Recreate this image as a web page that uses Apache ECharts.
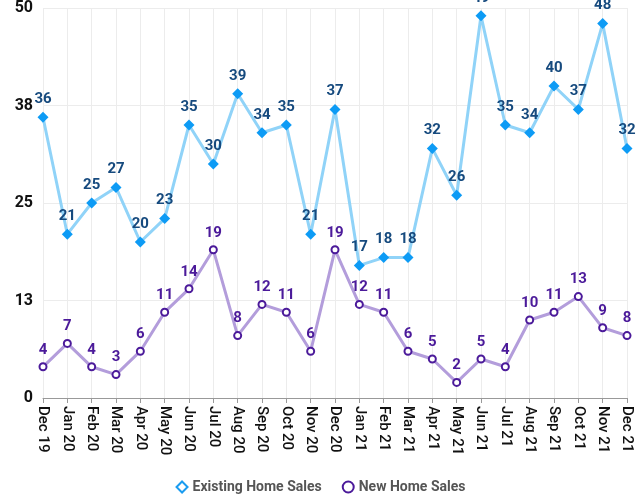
<!DOCTYPE html>
<html>
<head>
<meta charset="utf-8">
<script src="https://cdn.jsdelivr.net/npm/echarts@6/dist/echarts.min.js"></script>
<style>
  html, body { margin: 0; padding: 0; background: #fff; }
  #chart { width: 641px; height: 499px; }
</style>
</head>
<body>
<div id="chart"></div>
<script>
// months along the x axis
const months = ['Dec 19', 'Jan 20', 'Feb 20', 'Mar 20', 'Apr 20', 'May 20', 'Jun 20', 'Jul 20',
  'Aug 20', 'Sep 20', 'Oct 20', 'Nov 20', 'Dec 20', 'Jan 21', 'Feb 21', 'Mar 21', 'Apr 21',
  'May 21', 'Jun 21', 'Jul 21', 'Aug 21', 'Sep 21', 'Oct 21', 'Nov 21', 'Dec 21']

// series values
const existingSales = [36, 21, 25, 27, 20, 23, 35, 30, 39, 34, 35, 21, 37, 17, 18, 18, 32, 26, 49, 35, 34, 40, 37, 48, 32]
const newSales = [4, 7, 4, 3, 6, 11, 14, 19, 8, 12, 11, 6, 19, 12, 11, 6, 5, 2, 5, 4, 10, 11, 13, 9, 8]

const font = '"Roboto", sans-serif'

const chart = echarts.init(document.getElementById('chart'))

chart.setOption({
  animation: false,
  grid: { left: 43, right: 14, top: 8, bottom: 101 },
  legend: {
    bottom: 0,
    left: 'center',
    itemWidth: 11,
    itemHeight: 11,
    itemGap: 20,
    textStyle: { color: '#555', fontSize: 14, fontWeight: 'bold', fontFamily: font },
    data: [
      { name: 'Existing Home Sales', icon: 'emptyDiamond', itemStyle: { color: '#1a9cf0', borderColor: '#1a9cf0', borderWidth: 2.5 } },
      { name: 'New Home Sales', icon: 'emptyCircle', itemStyle: { color: '#4b1a9a', borderColor: '#4b1a9a', borderWidth: 2.5 } }
    ]
  },
  xAxis: {
    type: 'category',
    boundaryGap: false,
    data: months,
    axisLine: { lineStyle: { color: '#999' } },
    axisTick: { show: true, lineStyle: { color: '#999' } },
    splitLine: { show: true, lineStyle: { color: '#ececec' } },
    axisLabel: {
      rotate: -90,
      interval: 0,
      color: '#111',
      fontSize: 15,
      fontWeight: 500,
      fontFamily: font,
      margin: 8
    }
  },
  yAxis: {
    type: 'value',
    min: 0,
    max: 50,
    interval: 12.5,
    axisLine: { show: false },
    axisTick: { show: false },
    splitLine: { lineStyle: { color: '#ececec' } },
    axisLabel: {
      color: '#111',
      fontSize: 16,
      fontWeight: 'bold',
      fontFamily: font,
      margin: 10,
      formatter: v => Math.round(v)
    }
  },
  series: [
    {
      name: 'Existing Home Sales',
      type: 'line',
      data: existingSales,
      symbol: 'diamond',
      symbolSize: 11,
      lineStyle: { color: '#90d3f8', width: 3 },
      itemStyle: { color: '#0d9bf5' },
      label: {
        show: true,
        position: 'top',
        distance: 5,
        color: '#164a7e',
        fontSize: 15,
        fontWeight: 'bold',
        fontFamily: font
      }
    },
    {
      name: 'New Home Sales',
      type: 'line',
      data: newSales,
      symbol: 'emptyCircle',
      symbolSize: 7,
      lineStyle: { color: '#b39ddb', width: 3 },
      itemStyle: { color: '#4b1a9a', borderWidth: 2.5 },
      label: {
        show: true,
        position: 'top',
        distance: 5,
        color: '#4b1a9a',
        fontSize: 15,
        fontWeight: 'bold',
        fontFamily: font
      }
    }
  ]
})
</script>
</body>
</html>
